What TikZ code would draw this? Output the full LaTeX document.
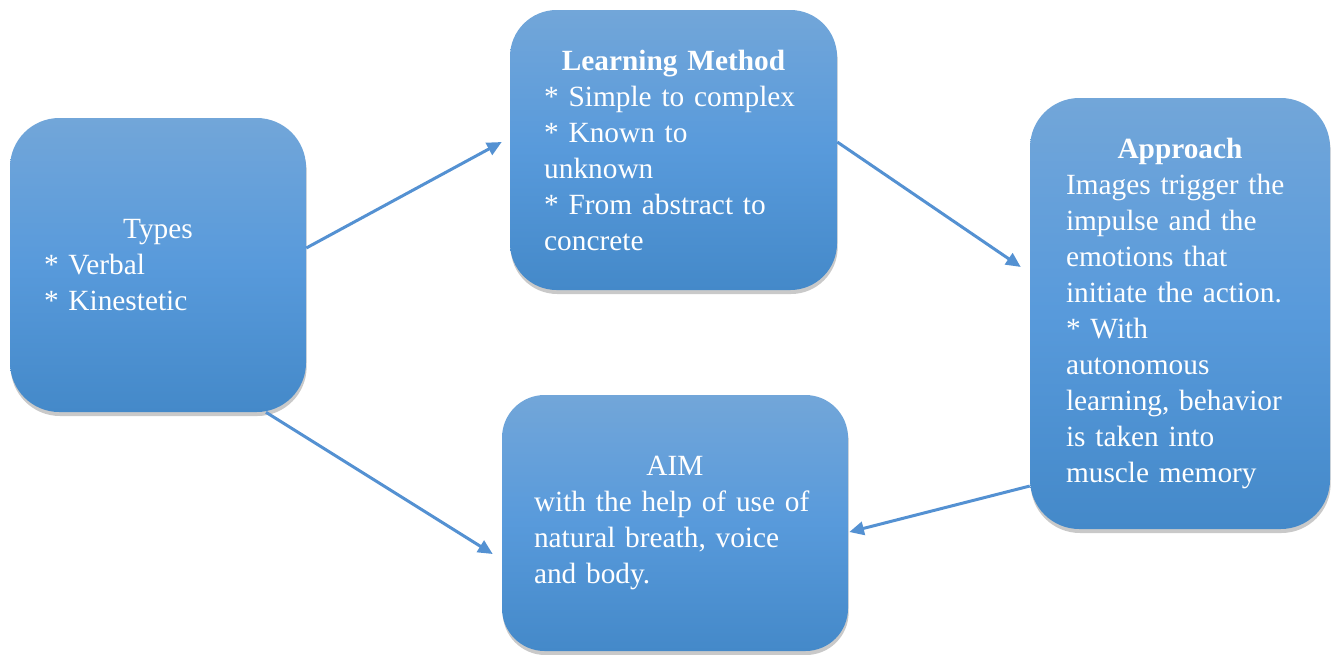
\documentclass[tikz,border=0pt]{standalone}
\usepackage{fontspec}
\setmainfont{Liberation Serif}
\usetikzlibrary{shadows,arrows.meta}

\definecolor{boxtop}{RGB}{114,166,217}
\definecolor{boxmid}{RGB}{88,154,219}
\definecolor{boxbot}{RGB}{68,137,201}
\definecolor{linkblue}{RGB}{84,145,210}

\tikzset{
  card/.style={
    rectangle, inner xsep=0pt, inner ysep=0pt,
    top color=boxtop, bottom color=boxbot, middle color=boxmid,
    text=white, align=left,
    font=\fontsize{22pt}{27pt}\selectfont,
    drop shadow={shadow xshift=0.5pt, shadow yshift=-3pt, opacity=0.3, fill=black!70}
  },
  link/.style={draw=linkblue, line width=2.25pt,
    -{Triangle[length=11pt,width=10pt]}}
}

\newcommand{\cardhead}[1]{\makebox[\linewidth][c]{#1}}
\newcommand{\bul}{{*}~}

\begin{document}
\begin{tikzpicture}[x=0.75pt,y=-0.75pt]
  \useasboundingbox (0,0) rectangle (1333,654);

  % the four cards
  \node[card, minimum width=222pt, minimum height=220.5pt,
        text width=171pt, rounded corners=37pt] (types) at (158,265)
    {\cardhead{Types}\\
     \bul Verbal\\
     \bul Kinestetic};

  \node[card, minimum width=245.25pt, minimum height=210pt,
        text width=194pt, rounded corners=35pt] (lm) at (673.5,150)
    {\cardhead{\textbf{Learning Method}}\\
     \bul Simple to complex\\
     \bul Known to\\
     unknown\\
     \bul From abstract to\\
     concrete};

  \node[card, minimum width=225pt, minimum height=323.25pt,
        text width=171pt, rounded corners=37pt] (appr) at (1180,313.5)
    {\cardhead{\textbf{Approach}}\\
     Images trigger the\\
     impulse and the\\
     emotions that\\
     initiate the action.\\
     \bul With\\
     autonomous\\
     learning, behavior\\
     is taken into\\
     muscle memory};

  \node[card, minimum width=259.5pt, minimum height=192pt,
        text width=211.5pt, rounded corners=32pt] (aim) at (675,523)
    {\cardhead{AIM}\\
     with the help of use of\\
     natural breath, voice\\
     and body.};

  % connectors
  \draw[link] ([yshift=12.75pt]types.east) -- ([xshift=-6pt,yshift=6pt]lm.west);
  \draw[link] ([yshift=6pt]lm.east) -- ([xshift=-6.75pt,yshift=34.9pt]appr.west);
  \draw[link] ([yshift=-129.4pt]appr.west) -- ([xshift=0.75pt,yshift=-6.75pt]aim.east);
  \draw[link] ([xshift=81pt]types.south) -- ([xshift=-6.75pt,yshift=-23.25pt]aim.west);
\end{tikzpicture}
\end{document}
